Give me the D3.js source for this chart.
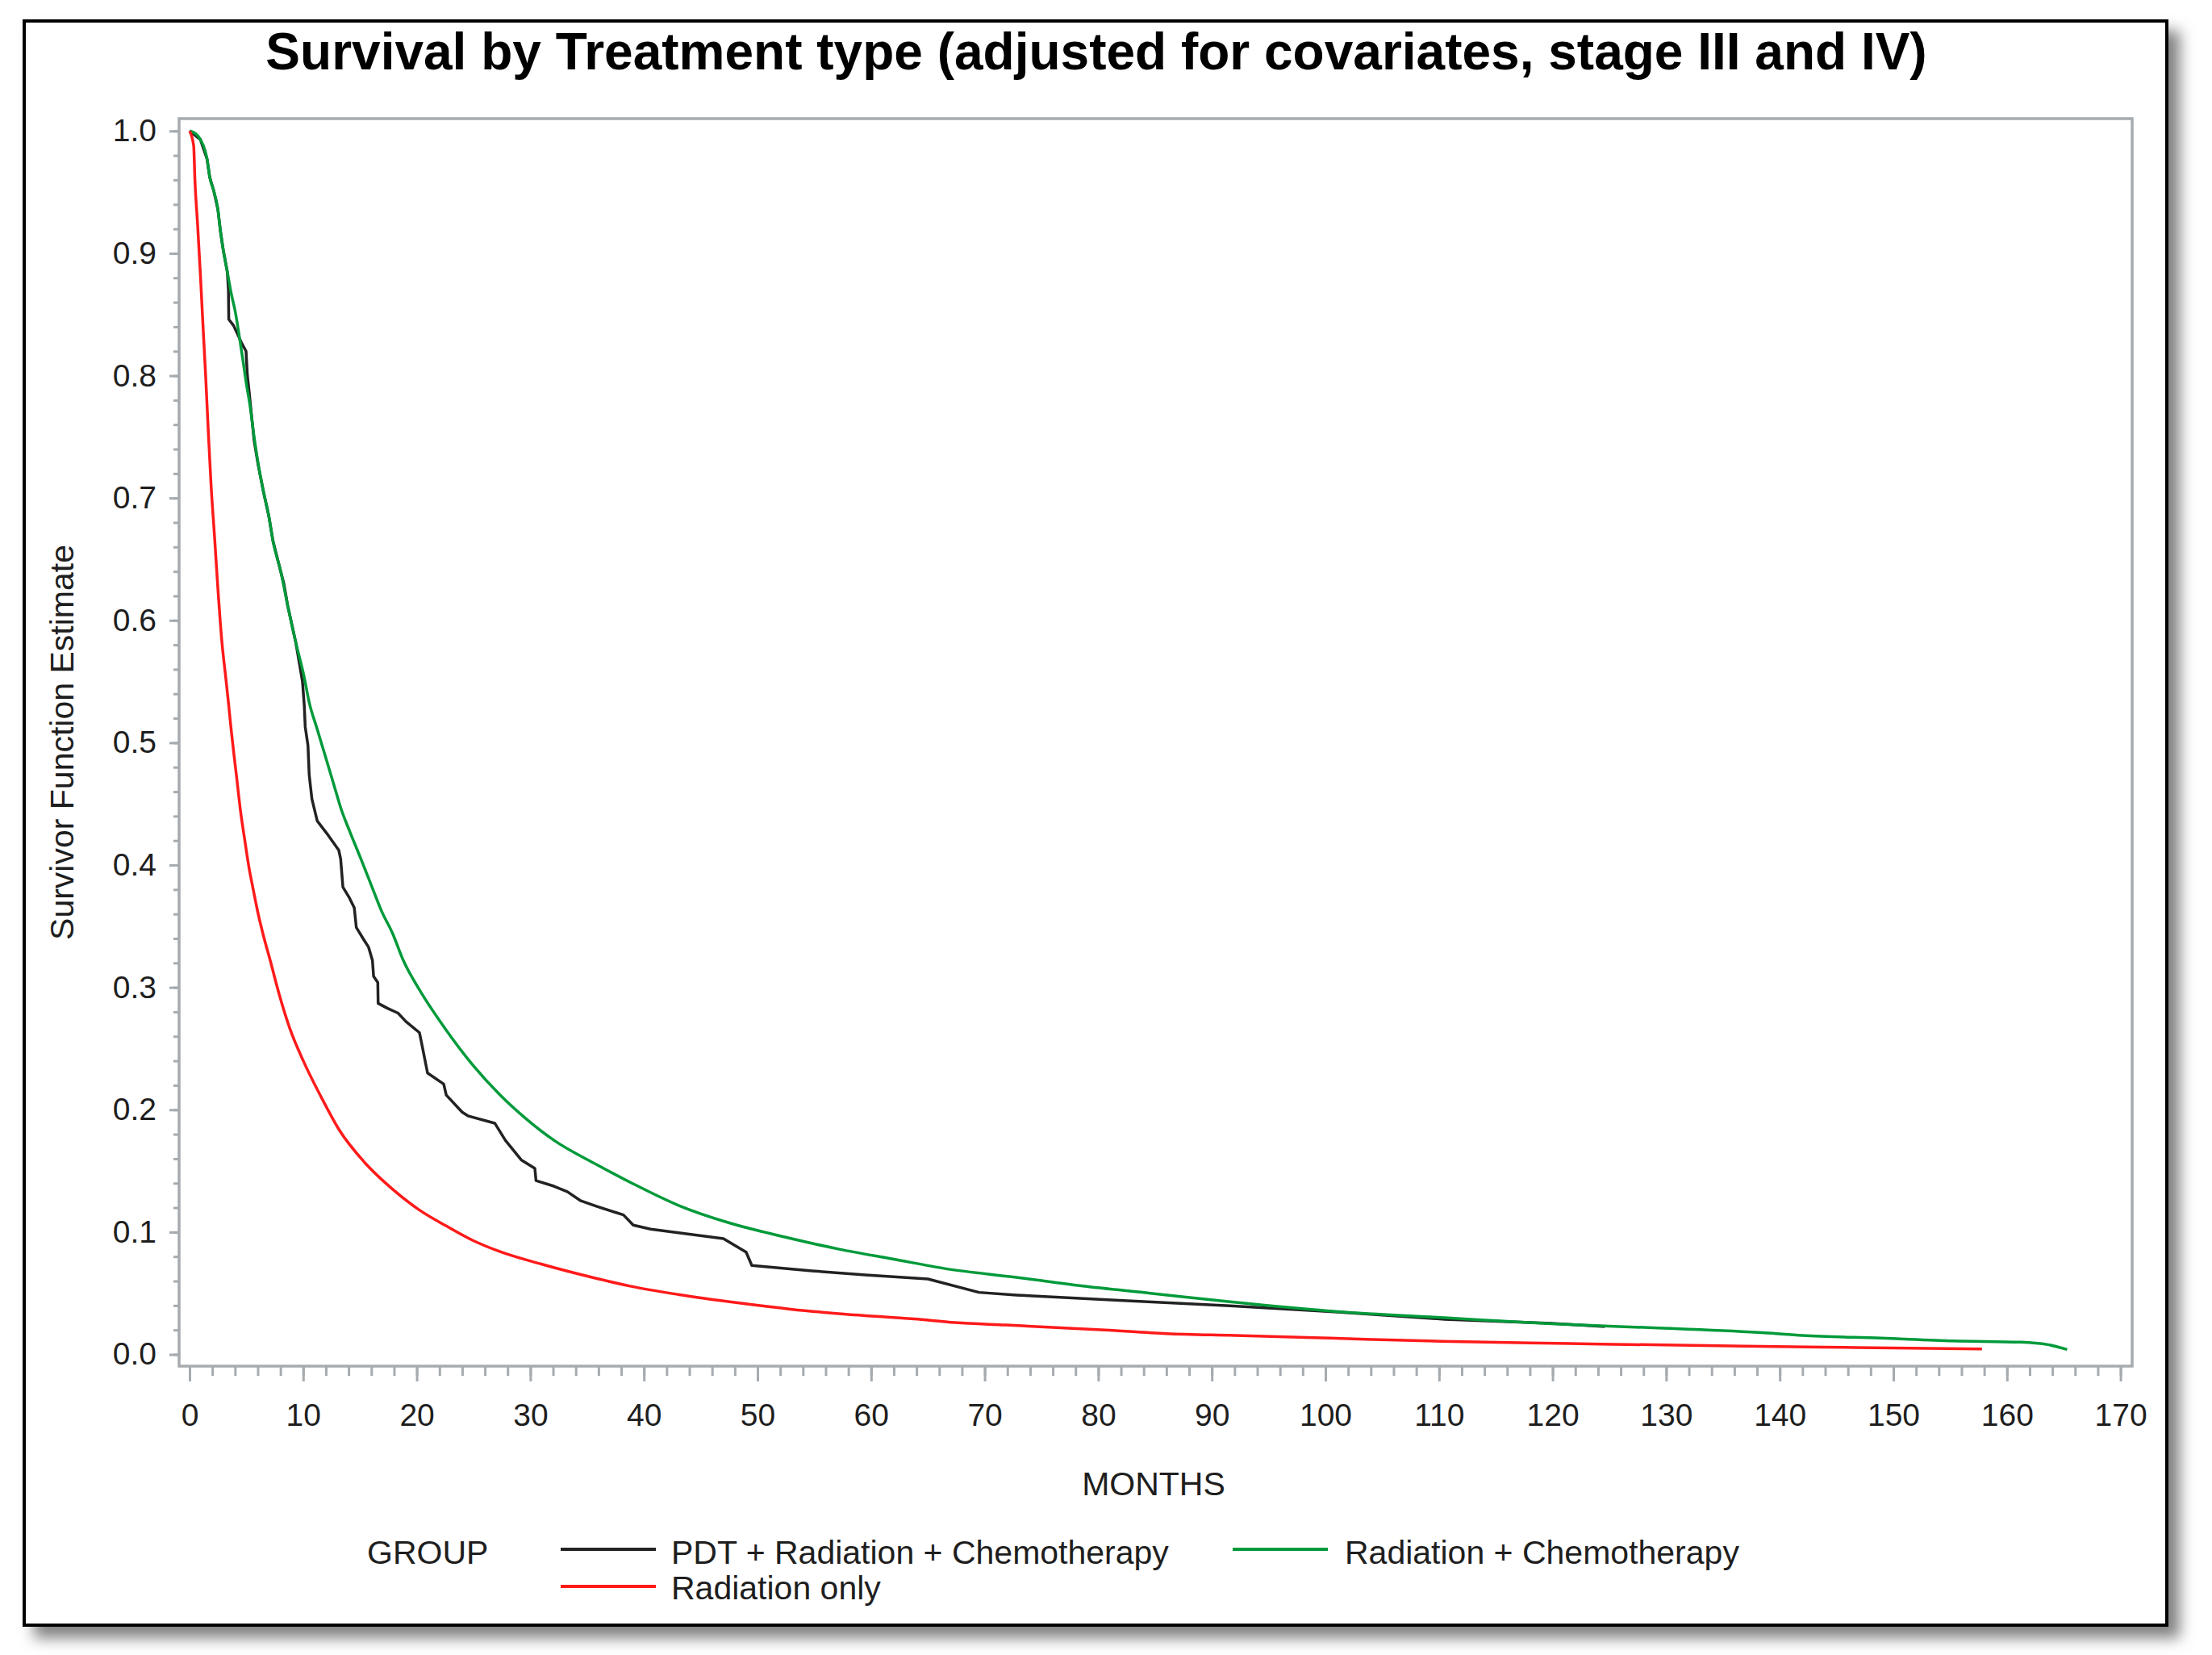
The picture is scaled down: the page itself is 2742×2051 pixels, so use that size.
<!DOCTYPE html>
<html>
<head>
<meta charset="utf-8">
<script src="https://cdn.jsdelivr.net/npm/d3@7"></script>
<style>
html,body{margin:0;padding:0;background:#fff;}
svg{display:block;}
text{font-family:"Liberation Sans",Arial,Helvetica,sans-serif;}
</style>
</head>
<body>
<svg id="chart" width="2742" height="2051"></svg>
<script>
// ---------------- DATA ----------------
const chartTitle = "Survival by Treatment type (adjusted for covariates, stage III and IV)";
const xAxisTitle = "MONTHS";
const yAxisTitle = "Survivor Function Estimate";
const legendTitle = "GROUP";
const groupNames = ["PDT + Radiation + Chemotherapy", "Radiation + Chemotherapy", "Radiation only"];

const xTickValues = [0,10,20,30,40,50,60,70,80,90,100,110,120,130,140,150,160,170];
const yTickValues = [0.0,0.1,0.2,0.3,0.4,0.5,0.6,0.7,0.8,0.9,1.0];

// [month, survivor function estimate]
const pdtRadChemo = [
  [0,1.0],[0.95,0.993],[1.54,0.977],[1.78,0.962],[2.13,0.951],[2.49,0.936],[2.72,0.918],[2.96,0.903],
  [3.32,0.885],[3.42,0.870],[3.45,0.846],[3.87,0.841],[4.62,0.826],[4.97,0.820],[5.09,0.800],[5.21,0.790],
  [5.68,0.747],[6.04,0.727],[6.51,0.705],[6.98,0.685],[7.34,0.665],[8.05,0.639],[8.3,0.630],[8.64,0.612],
  [9.35,0.582],[9.94,0.550],[10.1,0.530],[10.18,0.513],[10.42,0.498],[10.53,0.474],[10.77,0.454],
  [11.24,0.436],[12.07,0.426],[13.14,0.412],[13.3,0.405],[13.5,0.382],[14.08,0.373],[14.5,0.365],
  [14.68,0.349],[15.27,0.340],[15.75,0.333],[16.1,0.322],[16.2,0.309],[16.57,0.304],[16.6,0.287],
  [17.4,0.283],[18.35,0.279],[19.06,0.272],[20.24,0.263],[20.48,0.252],[20.95,0.230],[22.37,0.221],
  [22.6,0.212],[24.0,0.198],[24.5,0.195],[26.87,0.189],[27.8,0.175],[29.2,0.159],[30.4,0.152],
  [30.5,0.142],[32.08,0.1375],[33.26,0.133],[34.45,0.1255],[35.87,0.121],[38.2,0.114],[39.06,0.1057],
  [40.6,0.1024],[47.0,0.0946],[49.0,0.0836],[49.5,0.0727],[54.8,0.0683],[59.5,0.065],[65.0,0.0617],
  [69.5,0.0507],[72.8,0.0485],[82.2,0.044],[91.6,0.0397],[101.1,0.0346],[110.5,0.0287],[119.9,0.0254],
  [124.6,0.0228]
];

const radChemo = [
  [0,1.0],[0.5,0.998],[0.95,0.993],[1.54,0.977],[1.78,0.962],[2.13,0.951],[2.49,0.936],[2.72,0.918],[2.96,0.903],
  [3.32,0.885],[3.67,0.867],[4.03,0.852],[4.38,0.832],[4.74,0.810],[4.97,0.795],[5.33,0.775],[5.68,0.750],
  [6.04,0.728],[6.51,0.705],[6.98,0.685],[7.34,0.665],[8.05,0.639],[8.64,0.612],[9.35,0.582],[10.06,0.555],
  [10.53,0.533],[11.24,0.511],[11.95,0.489],[12.66,0.467],[13.37,0.445],[14.08,0.428],[15.04,0.406],
  [15.98,0.384],[16.92,0.362],[17.88,0.344],[18.82,0.322],[20.24,0.298],[22.6,0.265],[24.98,0.236],
  [27.34,0.212],[29.7,0.192],[32.08,0.175],[35.87,0.155],[38.94,0.140],[43.0,0.122],[47.7,0.107],
  [52.4,0.096],[57.2,0.086],[61.9,0.078],[66.6,0.070],[72.8,0.063],[78.5,0.056],[84.6,0.050],
  [91.6,0.043],[101.1,0.035],[110.5,0.030],[119.9,0.025],[129.3,0.0216],[138.7,0.0177],[142.0,0.0155],
  [148.9,0.0133],[155.3,0.0110],[161.2,0.0100],[163.6,0.0080],[165.3,0.0040]
];

const radOnly = [
  [0,1.0],[0.36,0.988],[0.47,0.960],[0.71,0.923],[0.95,0.883],[1.18,0.841],[1.42,0.799],[1.66,0.752],
  [1.89,0.711],[2.2,0.668],[2.5,0.625],[2.84,0.583],[3.2,0.552],[3.43,0.532],[3.67,0.510],
  [3.91,0.490],[4.14,0.472],[4.50,0.443],[4.85,0.421],[5.21,0.399],[5.56,0.382],[6.04,0.360],[6.51,0.342],
  [7.10,0.322],[7.93,0.293],[8.88,0.265],[10.06,0.239],[11.72,0.208],[13.14,0.184],[15.50,0.156],
  [17.88,0.135],[20.24,0.118],[22.6,0.105],[24.98,0.093],[27.34,0.084],[30.9,0.074],[35.87,0.062],
  [38.7,0.056],[43.0,0.049],[48.4,0.042],[52.9,0.037],[57.6,0.033],[63.8,0.029],[67.4,0.026],[71.9,0.024],
  [80.6,0.020],[86.0,0.017],[92.1,0.0155],[100.4,0.0133],[110.2,0.0107],[121.5,0.0089],[136.9,0.0067],
  [146.7,0.0056],[157.8,0.0045]
];

// ---------------- STYLE / LAYOUT ----------------
const seriesColors = ["#222222", "#009a3a", "#ff1a1a"];
const seriesCurves = [d3.curveLinear, d3.curveMonotoneX, d3.curveMonotoneX];
const axisColor = "#a6abb0";
const textColor = "#1e1e1e";

const svg = d3.select("#chart");

const defs = svg.append("defs");
const f = defs.append("filter").attr("id","shadow").attr("x","-5%").attr("y","-5%").attr("width","115%").attr("height","115%");
f.append("feGaussianBlur").attr("stdDeviation", 9);

// outer panel shadow + frame
svg.append("rect").attr("x",42).attr("y",38).attr("width",2660).attr("height",1992)
  .attr("fill","#808080").attr("filter","url(#shadow)");
svg.append("rect").attr("x",30).attr("y",26).attr("width",2656).attr("height",1988)
  .attr("fill","#ffffff").attr("stroke","#000").attr("stroke-width",4);

// title
const title = svg.append("text").attr("x",1359).attr("y",86).attr("text-anchor","middle")
  .attr("font-weight","bold").attr("font-size",64).attr("fill","#000").text(chartTitle);
const tw = title.node().getComputedTextLength();
const targetW = 2063;
if (Math.abs(tw - targetW) > 10) {
  title.attr("textLength", targetW).attr("lengthAdjust","spacingAndGlyphs");
}

// scales
const plot = {left:222, top:147, right:2643, bottom:1693};
const x = d3.scaleLinear().domain([0,170]).range([235, 2628.6]);
const y = d3.scaleLinear().domain([0,1]).range([1678.5, 162.3]);

// plot frame
svg.append("rect").attr("x",plot.left).attr("y",plot.top)
  .attr("width",plot.right-plot.left).attr("height",plot.bottom-plot.top)
  .attr("fill","none").attr("stroke",axisColor).attr("stroke-width",3.5);

// y axis
const yMinor = d3.range(0, 1.0001, 0.02);
const gyMinor = svg.append("g").attr("transform",`translate(${plot.left},0)`)
  .call(d3.axisLeft(y).tickValues(yMinor).tickSize(7).tickFormat(""));
const gy = svg.append("g").attr("transform",`translate(${plot.left},0)`)
  .call(d3.axisLeft(y).tickValues(yTickValues).tickSize(12).tickPadding(16).tickFormat(d3.format(".1f")));

// x axis
const xMinor = d3.range(0, 170.001, 2);
const gxMinor = svg.append("g").attr("transform",`translate(0,${plot.bottom})`)
  .call(d3.axisBottom(x).tickValues(xMinor).tickSize(12).tickFormat(""));
const gx = svg.append("g").attr("transform",`translate(0,${plot.bottom})`)
  .call(d3.axisBottom(x).tickValues(xTickValues).tickSize(19).tickFormat(d3.format("d")));

[gy,gyMinor,gx,gxMinor].forEach(g=>{
  g.select(".domain").remove();
  g.selectAll(".tick line").attr("stroke",axisColor).attr("stroke-width",3);
  g.selectAll(".tick text").attr("fill",textColor).attr("font-size",39)
    .attr("font-family",'"Liberation Sans",Arial,sans-serif');
});
gx.selectAll(".tick text").attr("y",74).attr("dy","0");

// axis titles
svg.append("text").attr("x",1430).attr("y",1853).attr("text-anchor","middle")
  .attr("font-size",41).attr("fill",textColor).text(xAxisTitle);
svg.append("text").attr("transform","translate(91,920) rotate(-90)").attr("text-anchor","middle")
  .attr("font-size",41).attr("fill",textColor).text(yAxisTitle);

// curves
const seriesData = [pdtRadChemo, radChemo, radOnly];
seriesData.forEach((data,i)=>{
  const line = d3.line().x(d=>x(d[0])).y(d=>y(d[1])).curve(seriesCurves[i]);
  svg.append("path").datum(data).attr("d",line).attr("fill","none")
    .attr("stroke",seriesColors[i]).attr("stroke-width",3.5).attr("stroke-linejoin","round");
});

// legend
svg.append("text").attr("x",455).attr("y",1938).attr("font-size",41).attr("fill",textColor).text(legendTitle);
const legendPos = [
  {lx:695, ly:1920, tx:832, ty:1938},
  {lx:1528, ly:1920, tx:1667, ty:1938},
  {lx:695, ly:1966, tx:832, ty:1982}
];
groupNames.forEach((name,i)=>{
  const p = legendPos[i];
  svg.append("line").attr("x1",p.lx).attr("x2",p.lx+118).attr("y1",p.ly).attr("y2",p.ly)
    .attr("stroke",seriesColors[i]).attr("stroke-width",4);
  svg.append("text").attr("x",p.tx).attr("y",p.ty).attr("font-size",41).attr("fill",textColor).text(name);
});
</script>
</body>
</html>
